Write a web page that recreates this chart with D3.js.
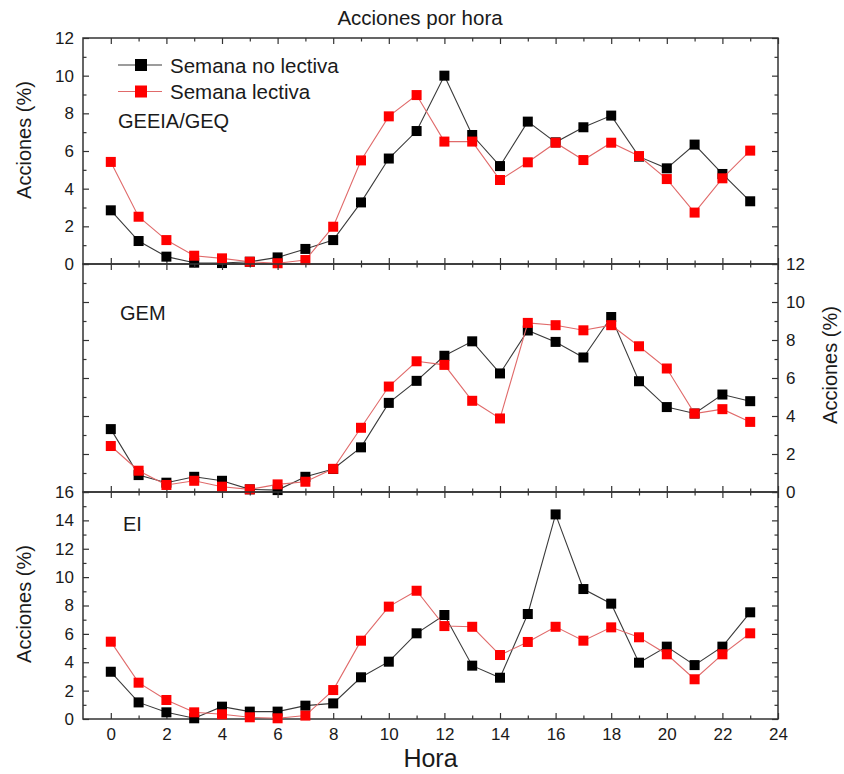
<!DOCTYPE html>
<html>
<head>
<meta charset="utf-8">
<script src="https://cdn.jsdelivr.net/npm/d3@7"></script>
<style>
  html, body { margin: 0; padding: 0; background: #fff; }
  svg text { font-family: "Liberation Sans", Arial, sans-serif; fill: #1a1a1a; }
</style>
</head>
<body>
<svg id="chart" width="844" height="774"></svg>
<script>
// Hour of day for every point
const hours = [0, 1, 2, 3, 4, 5, 6, 7, 8, 9, 10, 11, 12, 13, 14, 15, 16, 17, 18, 19, 20, 21, 22, 23];

// GEEIA/GEQ – share of actions per hour (%)
const geeiaNoLectiva = [2.85, 1.22, 0.39, 0.07, 0.05, 0.12, 0.35, 0.8, 1.27, 3.27, 5.6, 7.06, 10.0, 6.85, 5.2, 7.56, 6.46, 7.26, 7.88, 5.7, 5.08, 6.34, 4.78, 3.33];
const geeiaLectiva   = [5.42, 2.51, 1.27, 0.44, 0.3, 0.12, 0.04, 0.21, 1.98, 5.5, 7.84, 8.97, 6.5, 6.5, 4.46, 5.4, 6.44, 5.52, 6.44, 5.73, 4.51, 2.73, 4.55, 6.02];

// GEM
const gemNoLectiva = [3.31, 0.89, 0.49, 0.8, 0.59, 0.14, 0.1, 0.8, 1.21, 2.35, 4.69, 5.85, 7.17, 7.93, 6.24, 8.5, 7.9, 7.08, 9.21, 5.83, 4.47, 4.13, 5.13, 4.78];
const gemLectiva   = [2.42, 1.12, 0.37, 0.59, 0.28, 0.14, 0.4, 0.54, 1.22, 3.38, 5.55, 6.88, 6.69, 4.8, 3.87, 8.9, 8.78, 8.51, 8.78, 7.67, 6.5, 4.13, 4.36, 3.69];

// EI
const eiNoLectiva = [3.33, 1.17, 0.47, 0.05, 0.87, 0.52, 0.52, 0.94, 1.1, 2.94, 4.04, 6.04, 7.33, 3.76, 2.91, 7.4, 14.42, 9.16, 8.13, 3.97, 5.1, 3.8, 5.1, 7.52];
const eiLectiva   = [5.45, 2.56, 1.34, 0.47, 0.33, 0.12, 0.05, 0.24, 2.04, 5.52, 7.92, 9.04, 6.55, 6.5, 4.51, 5.43, 6.5, 5.52, 6.46, 5.76, 4.56, 2.8, 4.56, 6.04];

// Axis ticks
const xMajorTicks = [0, 2, 4, 6, 8, 10, 12, 14, 16, 18, 20, 22, 24];
const xMinorTicks = [1, 3, 5, 7, 9, 11, 13, 15, 17, 19, 21, 23];
const yMajorTicks12 = [0, 2, 4, 6, 8, 10, 12];
const yMinorTicks12 = [1, 3, 5, 7, 9, 11];
const yMajorTicks16 = [0, 2, 4, 6, 8, 10, 12, 14, 16];
const yMinorTicks16 = [1, 3, 5, 7, 9, 11, 13, 15];

const seriesNames = ["Semana no lectiva", "Semana lectiva"];
const panelNames = ["GEEIA/GEQ", "GEM", "EI"];

// ---- layout ----
const svg = d3.select("#chart");
const left = 83, right = 778;
const x = d3.scaleLinear().domain([-1, 24]).range([left, right]);

const colors = {
  black: { fill: "#000", line: "#3a3a3a" },
  red:   { fill: "#ff0000", line: "#e06a6a" }
};
const markerSize = 10;
const majorLen = 6, minorLen = 3.5;

const panels = [
  { name: panelNames[0], top: 38,  bottom: 264, max: 12, majors: yMajorTicks12, minors: yMinorTicks12,
    labelSide: "left", data: [geeiaNoLectiva, geeiaLectiva], nameY: 128, nameX: 118 },
  { name: panelNames[1], top: 264, bottom: 492, max: 12, majors: yMajorTicks12, minors: yMinorTicks12,
    labelSide: "right", data: [gemNoLectiva, gemLectiva], nameY: 320, nameX: 120 },
  { name: panelNames[2], top: 492, bottom: 719, max: 16, majors: yMajorTicks16, minors: yMinorTicks16,
    labelSide: "left", data: [eiNoLectiva, eiLectiva], nameY: 531, nameX: 123 }
];

function styleAxis(g) {
  g.select(".domain").remove();
  g.selectAll(".tick line").attr("stroke", "#333").attr("stroke-width", 1.2);
  g.selectAll(".tick text").attr("font-size", 17).attr("fill", "#1a1a1a")
    .attr("font-family", "'Liberation Sans', Arial, sans-serif");
}

panels.forEach((p, i) => {
  const y = d3.scaleLinear().domain([0, p.max]).range([p.bottom, p.top]);
  const g = svg.append("g");

  // Y axes: ticks pointing inward on both sides
  const showLeft = p.labelSide === "left";
  g.append("g").attr("transform", `translate(${left},0)`)
    .call(d3.axisLeft(y).tickValues(p.majors).tickSize(-majorLen).tickPadding(9)
      .tickFormat(showLeft ? d3.format("d") : () => ""))
    .call(styleAxis);
  g.append("g").attr("transform", `translate(${left},0)`)
    .call(d3.axisLeft(y).tickValues(p.minors).tickSize(-minorLen).tickFormat(() => ""))
    .call(styleAxis);
  g.append("g").attr("transform", `translate(${right},0)`)
    .call(d3.axisRight(y).tickValues(p.majors).tickSize(-majorLen).tickPadding(8)
      .tickFormat(showLeft ? () => "" : d3.format("d")))
    .call(styleAxis);
  g.append("g").attr("transform", `translate(${right},0)`)
    .call(d3.axisRight(y).tickValues(p.minors).tickSize(-minorLen).tickFormat(() => ""))
    .call(styleAxis);

  // X ticks along the top and bottom edges of every panel
  const isLast = i === panels.length - 1;
  g.append("g").attr("transform", `translate(0,${p.top})`)
    .call(d3.axisTop(x).tickValues(xMajorTicks).tickSize(-majorLen).tickFormat(() => ""))
    .call(styleAxis);
  g.append("g").attr("transform", `translate(0,${p.top})`)
    .call(d3.axisTop(x).tickValues(xMinorTicks).tickSize(-minorLen).tickFormat(() => ""))
    .call(styleAxis);
  g.append("g").attr("transform", `translate(0,${p.bottom})`)
    .call(d3.axisBottom(x).tickValues(xMajorTicks).tickSize(-majorLen).tickPadding(9)
      .tickFormat(isLast ? d3.format("d") : () => ""))
    .call(styleAxis);
  g.append("g").attr("transform", `translate(0,${p.bottom})`)
    .call(d3.axisBottom(x).tickValues(xMinorTicks).tickSize(-minorLen).tickFormat(() => ""))
    .call(styleAxis);

  // Panel frame
  g.append("rect")
    .attr("x", left).attr("y", p.top)
    .attr("width", right - left).attr("height", p.bottom - p.top)
    .attr("fill", "none").attr("stroke", "#333").attr("stroke-width", 1.5);

  // Series: non-teaching week (black) first, teaching week (red) on top
  const styles = [colors.black, colors.red];
  p.data.forEach((values, s) => {
    const pts = hours.map((h, k) => [x(h), y(values[k])]);
    g.append("path")
      .attr("d", d3.line()(pts))
      .attr("fill", "none")
      .attr("stroke", styles[s].line)
      .attr("stroke-width", 1.1);
    g.selectAll(null).data(pts).enter().append("rect")
      .attr("x", d => d[0] - markerSize / 2)
      .attr("y", d => d[1] - markerSize / 2)
      .attr("width", markerSize).attr("height", markerSize)
      .attr("fill", styles[s].fill);
  });

  // Panel name
  g.append("text")
    .attr("x", p.nameX).attr("y", p.nameY)
    .attr("font-size", 20)
    .text(p.name);
});

// Legend (top panel)
const legend = svg.append("g");
[colors.black, colors.red].forEach((c, s) => {
  const ly = 65 + s * 26.5;
  legend.append("line")
    .attr("x1", 118).attr("x2", 162).attr("y1", ly).attr("y2", ly)
    .attr("stroke", c.line).attr("stroke-width", 1.1);
  legend.append("rect")
    .attr("x", 141 - 6).attr("y", ly - 6)
    .attr("width", 12).attr("height", 12)
    .attr("fill", c.fill);
  legend.append("text")
    .attr("x", 170).attr("y", ly + 7.5)
    .attr("font-size", 20.5)
    .text(seriesNames[s]);
});

// Title
svg.append("text")
  .attr("x", 420).attr("y", 25)
  .attr("text-anchor", "middle")
  .attr("font-size", 20.5)
  .text("Acciones por hora");

// X axis title
svg.append("text")
  .attr("x", (left + right) / 2).attr("y", 767)
  .attr("text-anchor", "middle")
  .attr("font-size", 25)
  .text("Hora");

// Y axis titles
function yTitle(cx, cy) {
  svg.append("text")
    .attr("transform", `translate(${cx},${cy}) rotate(-90)`)
    .attr("text-anchor", "middle")
    .attr("font-size", 20)
    .text("Acciones (%)");
}
yTitle(31, 140);
yTitle(837, 365);
yTitle(31, 604);
</script>
</body>
</html>
